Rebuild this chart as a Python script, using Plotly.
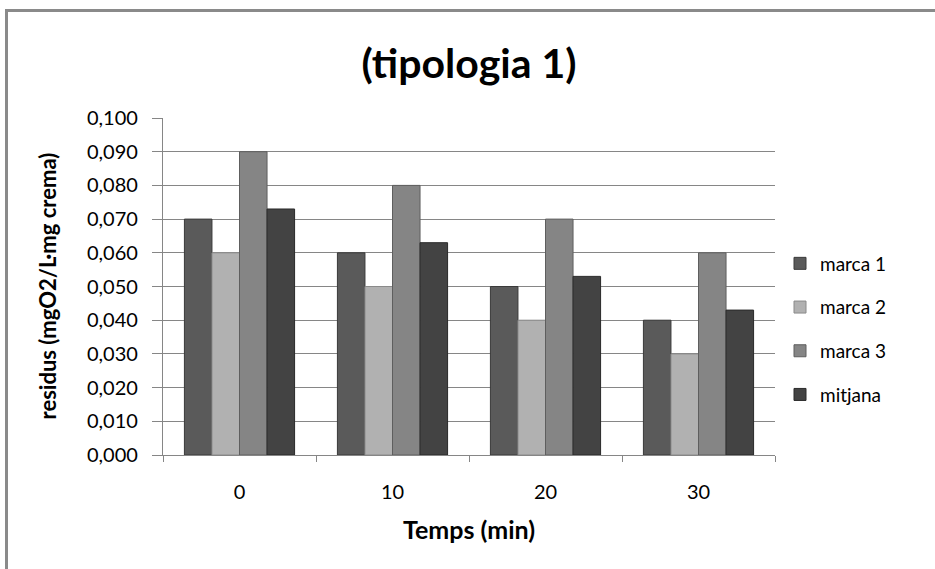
import plotly.graph_objects as go

categories = ["0", "10", "20", "30"]
marca1 = [0.070, 0.060, 0.050, 0.040]
marca2 = [0.060, 0.050, 0.040, 0.030]
marca3 = [0.090, 0.080, 0.070, 0.060]
mitjana = [0.073, 0.063, 0.053, 0.043]
series_names = ["marca 1", "marca 2", "marca 3", "mitjana"]
series_values = [marca1, marca2, marca3, mitjana]
colors = ["#5a5a5a", "#b1b1b1", "#858585", "#434343"]
edges = ["#3a3a3a", "#8a8a8a", "#5e5e5e", "#2a2a2a"]

FONT = "Lato"

fig = go.Figure()
for i, (name, vals) in enumerate(zip(series_names, series_values)):
    fig.add_trace(go.Bar(
        x=categories, y=vals, name=name, legendgroup=name,
        marker=dict(color=colors[i], line=dict(color=edges[i], width=1)),
    ))

W, H = 935, 569
PX0, PX1, PY0, PY1 = 163, 775, 118, 455  # plot area in pixels


def fx(px):
    return px / W


def fy(py):
    return (H - py) / H


fig.update_layout(
    width=W, height=H,
    margin=dict(l=0, r=0, t=0, b=0, autoexpand=False),
    paper_bgcolor="white", plot_bgcolor="white",
    separators=",.",
    barmode="group", bargap=0.28, bargroupgap=0,
    font=dict(family=FONT, color="#000000", size=20),
    title=dict(text="<b>(tipologia 1)</b>", x=fx((PX0 + PX1) / 2), xanchor="center",
               xref="paper", y=fy(64), yanchor="middle",
               font=dict(size=41, family=FONT)),
    legend=dict(x=fx(780), xanchor="left", y=fy(329), yanchor="middle",
                font=dict(size=19, family=FONT), tracegroupgap=16,
                bgcolor="rgba(0,0,0,0)"),
    xaxis=dict(domain=[fx(PX0), fx(PX1)], showgrid=False, showline=True,
               linecolor="#868686", linewidth=1,
               ticks="outside", tickson="boundaries", ticklen=6, tickcolor="#868686",
               ticklabelstandoff=19, tickfont=dict(size=20)),
    yaxis=dict(domain=[fy(PY1), fy(PY0)], range=[0, 0.1], dtick=0.01, tickformat=".3f",
               showgrid=True, gridcolor="#868686", gridwidth=1.3,
               showline=True, linecolor="#868686", linewidth=1.3,
               ticks="outside", ticklen=10, tickcolor="#868686",
               ticklabelstandoff=10, tickfont=dict(size=20), zeroline=False),
    annotations=[
        # chart frame (only top and left edges fall inside the canvas)
        dict(text=" ", xref="paper", yref="paper", x=fx(5), y=fy(9),
             xanchor="left", yanchor="top", showarrow=False,
             width=1000, height=620, bordercolor="#8a8a8a", borderwidth=3,
             borderpad=0, bgcolor="rgba(0,0,0,0)"),
        dict(text="<b>residus (mgO2/L·mg crema)</b>", xref="paper", yref="paper",
             x=fx(47), y=fy((PY0 + PY1) / 2), textangle=-90, showarrow=False,
             xanchor="center", yanchor="middle", font=dict(size=22, family=FONT)),
        dict(text="<b>Temps (min)</b>", xref="paper", yref="paper",
             x=fx((PX0 + PX1) / 2), y=fy(529), showarrow=False,
             xanchor="center", yanchor="middle", font=dict(size=25, family=FONT)),
    ],
)

fig.write_html("out.html")
